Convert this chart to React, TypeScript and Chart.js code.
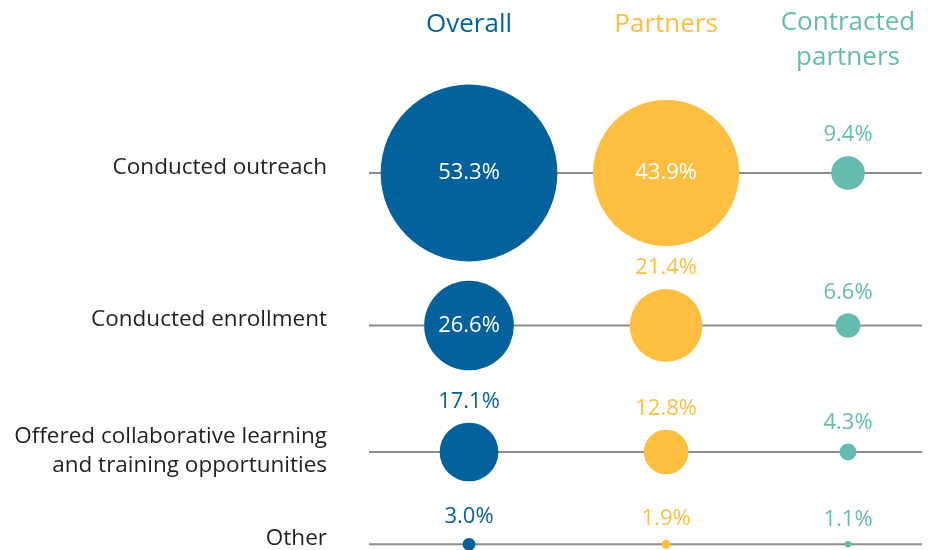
import React, { useEffect, useRef } from "react";
import { Chart, registerables } from "chart.js";

Chart.register(...registerables);

// ---- data ----
const categories: string[][] = [
  ["Conducted outreach"],
  ["Conducted enrollment"],
  ["Offered collaborative learning", "and training opportunities"],
  ["Other"],
];
const groups: string[][] = [["Overall"], ["Partners"], ["Contracted", "partners"]];
const overall = [53.3, 26.6, 17.1, 3.0];
const partners = [43.9, 21.4, 12.8, 1.9];
const contracted = [9.4, 6.6, 4.3, 1.1];

// ---- layout / style ----
const rowPos = [0, 1.525, 2.79, 3.713];
const colPos = [0, 1.04, 2];
const colors = ["#03619c", "#febe40", "#65bcae"];
const textDark = "#231f20";
const lineGray = "#8c8c8c";
const FONT = '"Open Sans", "Noto Sans", sans-serif';
const radiusOf = (v: number) => 1.63 * v + 1.5;
const insideThreshold = 25;

const series = [overall, partners, contracted];

export default function App() {
  const ref = useRef<HTMLCanvasElement | null>(null);

  useEffect(() => {
    document.body.style.margin = "0";
    const canvas = ref.current;
    if (!canvas) return;

    const overlay = {
      id: "overlay",
      beforeDatasetsDraw(chart: any) {
        const { ctx, chartArea, scales } = chart;
        ctx.save();
        ctx.strokeStyle = lineGray;
        ctx.lineWidth = 2;
        rowPos.forEach((rp) => {
          const y = scales.y.getPixelForValue(rp);
          ctx.beginPath();
          ctx.moveTo(chartArea.left, y);
          ctx.lineTo(chartArea.right, y);
          ctx.stroke();
        });
        // row labels
        ctx.fillStyle = textDark;
        ctx.font = `22.5px ${FONT}`;
        ctx.textAlign = "right";
        ctx.textBaseline = "middle";
        categories.forEach((lines, i) => {
          const y = scales.y.getPixelForValue(rowPos[i]);
          const lh = 29.5;
          const start = lines.length > 1 ? y - 1 - ((lines.length - 1) * lh) / 2 : y - 5.5;
          lines.forEach((t, j) => ctx.fillText(t, 327, start + j * lh));
        });
        // headers
        ctx.font = `26px ${FONT}`;
        ctx.textAlign = "center";
        groups.forEach((lines, g) => {
          const x = scales.x.getPixelForValue(colPos[g]);
          ctx.fillStyle = colors[g];
          lines.forEach((t, j) => ctx.fillText(t, x, (lines.length > 1 ? 23 : 25) + j * 35));
        });
        ctx.restore();
      },
      afterDatasetsDraw(chart: any) {
        const { ctx } = chart;
        ctx.save();
        ctx.font = `22px ${FONT}`;
        ctx.textAlign = "center";
        ctx.textBaseline = "middle";
        series.forEach((vals, g) => {
          const meta = chart.getDatasetMeta(g);
          vals.forEach((v, i) => {
            const el = meta.data[i];
            const r = radiusOf(v);
            const label = `${v.toFixed(1)}%`;
            if (v >= insideThreshold) {
              ctx.fillStyle = "#ffffff";
              ctx.fillText(label, el.x, el.y);
            } else {
              ctx.fillStyle = colors[g];
              ctx.fillText(label, el.x, el.y - r - 21);
            }
          });
        });
        ctx.restore();
      },
    };

    const chart = new Chart(canvas, {
      type: "bubble",
      data: {
        datasets: series.map((vals, g) => ({
          label: groups[g].join(" "),
          data: vals.map((v, i) => ({ x: colPos[g], y: rowPos[i], r: radiusOf(v) })),
          backgroundColor: colors[g],
          borderColor: colors[g],
          borderWidth: 0,
          hoverRadius: 0,
          clip: false as any,
        })),
      },
      options: {
        animation: false,
        responsive: false,
        events: [],
        layout: { padding: { left: 369, right: 13, top: 0, bottom: 0 }, autoPadding: false } as any,
        plugins: { legend: { display: false }, tooltip: { enabled: false } },
        scales: {
          x: { type: "linear", display: false, min: -0.5278, max: 2.3905 },
          y: { type: "linear", display: false, reverse: true, min: -1.73, max: 3.77 },
        },
      },
      plugins: [overlay],
    });
    return () => chart.destroy();
  }, []);

  return (
    <div style={{ width: 935, height: 550, background: "#ffffff" }}>
      <canvas ref={ref} width={935} height={550} />
    </div>
  );
}
